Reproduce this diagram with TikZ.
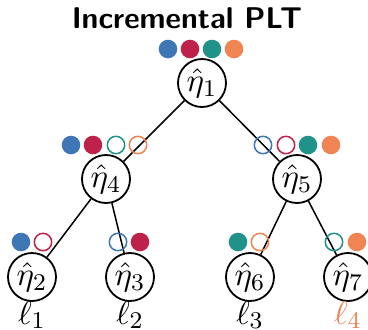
\documentclass[tikz,border=0pt]{standalone}
\definecolor{cblue}{HTML}{3F76B6}
\definecolor{ccrim}{HTML}{BE224A}
\definecolor{cteal}{HTML}{20928A}
\definecolor{corng}{HTML}{F08452}
\begin{document}
\begin{tikzpicture}[x={(0.33333pt,0)},y={(0,-0.33333pt)},
  tnode/.style={circle,draw,line width=0.6pt,minimum size=16pt,inner sep=0pt,font=\fontsize{10.95}{13}\selectfont},
  fdot/.style={circle,fill=#1,minimum size=6.2pt,inner sep=0pt},
  hdot/.style={circle,draw=#1,line width=0.5pt,minimum size=5.8pt,inner sep=0pt},
  leaf/.style={anchor=base,font=\fontsize{10.95}{13}\selectfont},
  edge/.style={line width=0.5pt}]
\useasboundingbox (0,0) rectangle (368,330);
\node[anchor=base] (title) at (187,28) {\sffamily\bfseries Incremental PLT};
% tree nodes
\node[tnode] (n1) at (202,83) {$\hat\eta_1$};
\node[tnode] (n4) at (106,179) {$\hat\eta_4$};
\node[tnode] (n5) at (297,179) {$\hat\eta_5$};
\node[tnode] (n2) at (32,277) {$\hat\eta_2$};
\node[tnode] (n3) at (130,277) {$\hat\eta_3$};
\node[tnode] (n6) at (250,277) {$\hat\eta_6$};
\node[tnode] (n7) at (348,277) {$\hat\eta_7$};
% edges
\draw[edge] (n1) -- (n4);
\draw[edge] (n1) -- (n5);
\draw[edge] (n4) -- (n2);
\draw[edge] (n4) -- (n3);
\draw[edge] (n5) -- (n6);
\draw[edge] (n5) -- (n7);
% dots above eta1
\node[fdot=cblue] (a1) at (168,49) {};
\node[fdot=ccrim] (a2) at (190,49) {};
\node[fdot=cteal] (a3) at (212,49) {};
\node[fdot=corng] (a4) at (234,49) {};
% dots above eta4
\node[fdot=cblue] (b1) at (71,145) {};
\node[fdot=ccrim] (b2) at (93,145) {};
\node[hdot=cteal] (b3) at (116,145) {};
\node[hdot=corng] (b4) at (138,145) {};
% dots above eta5
\node[hdot=cblue] (c1) at (263,145) {};
\node[hdot=ccrim] (c2) at (286,145) {};
\node[fdot=cteal] (c3) at (308,145) {};
\node[fdot=corng] (c4) at (331,145) {};
% bottom dots
\node[fdot=cblue] (d1) at (21,242) {};
\node[hdot=ccrim] (d2) at (43,242) {};
\node[hdot=cblue] (e1) at (118,242) {};
\node[fdot=ccrim] (e2) at (140,242) {};
\node[fdot=cteal] (f1) at (238,242) {};
\node[hdot=corng] (f2) at (260,242) {};
\node[hdot=cteal] (g1) at (334,242) {};
\node[fdot=corng] (g2) at (357,242) {};
% leaf labels
\node[leaf] (l1) at (32,324) {$\ell_1$};
\node[leaf] (l2) at (130,324) {$\ell_2$};
\node[leaf] (l3) at (250,324) {$\ell_3$};
\node[leaf,text=corng] (l4) at (348,324) {$\ell_4$};
\end{tikzpicture}
\end{document}
